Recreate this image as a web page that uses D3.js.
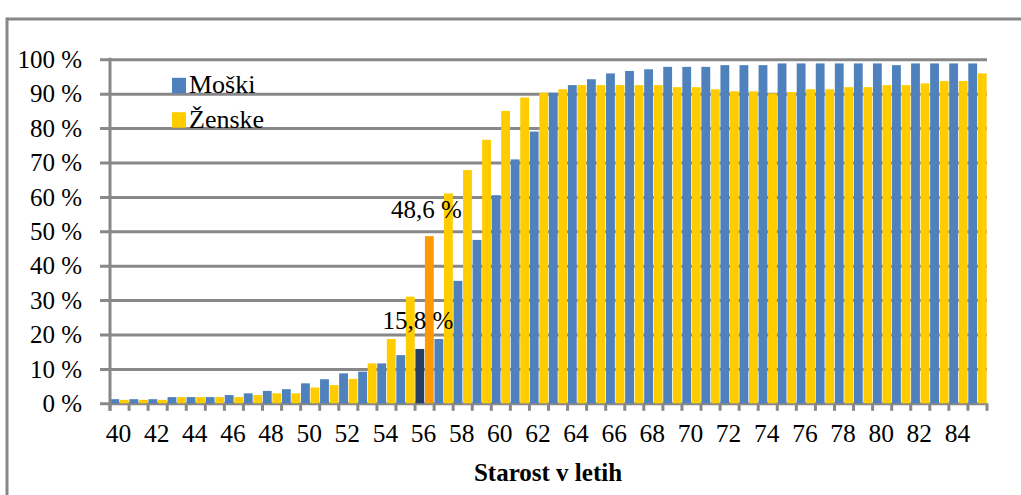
<!DOCTYPE html>
<html>
<head>
<meta charset="utf-8">
<script src="https://cdn.jsdelivr.net/npm/d3@7"></script>
<style>
  html, body { margin: 0; padding: 0; background: #fff; }
  svg { display: block; font-family: "Liberation Serif", "Times New Roman", serif; }
  svg text { font-family: "Liberation Serif", "Times New Roman", serif; fill: #000; }
</style>
</head>
<body>
<svg id="chart" width="1021" height="495"></svg>
<script>
// Ages (categories on the x axis)
const ages = [40, 41, 42, 43, 44, 45, 46, 47, 48, 49,
              50, 51, 52, 53, 54, 55, 56, 57, 58, 59,
              60, 61, 62, 63, 64, 65, 66, 67, 68, 69,
              70, 71, 72, 73, 74, 75, 76, 77, 78, 79,
              80, 81, 82, 83, 84, 85];

// Share of retired persons by age, in percent
const men = [1.2, 1.2, 1.2, 1.8, 1.8, 1.8, 2.4, 2.9, 3.6, 4.1,
             5.8, 7.0, 8.7, 9.2, 11.6, 14.0, 15.8, 18.7, 35.6, 47.5,
             60.5, 70.9, 79.0, 90.3, 92.5, 94.2, 95.9, 96.6, 97.1, 97.8,
             97.8, 97.8, 98.3, 98.3, 98.3, 98.8, 98.8, 98.8, 98.8, 98.8,
             98.8, 98.3, 98.8, 98.8, 98.8, 98.8];
const women = [1.0, 1.0, 1.0, 1.8, 1.8, 1.8, 1.8, 2.4, 2.9, 2.9,
               4.6, 5.3, 7.1, 11.6, 18.7, 31.0, 48.6, 61.0, 67.8, 76.6,
               85.0, 88.9, 90.3, 91.3, 92.5, 92.5, 92.5, 92.5, 92.5, 91.9,
               91.9, 91.3, 90.7, 90.7, 90.1, 90.5, 91.3, 91.3, 91.9, 91.9,
               92.5, 92.5, 93.0, 93.7, 93.7, 95.9];

const seriesNames = ["Moški", "Ženske"];
const yTicks = [0, 10, 20, 30, 40, 50, 60, 70, 80, 90, 100];
const xTickLabels = [40, 42, 44, 46, 48, 50, 52, 54, 56, 58, 60, 62,
                     64, 66, 68, 70, 72, 74, 76, 78, 80, 82, 84];
const highlightAge = 56;
const axisTitle = "Starost v letih";

const colors = { men: "#4F81BD", women: "#FFCC00", menHi: "#243F60", womenHi: "#FF9900" };
const gridColor = "#888888";

const svg = d3.select("#chart");
const plotLeft = 110, plotRight = 987, plotTop = 59.3, plotBottom = 403.3;

const x = d3.scaleBand().domain(ages).range([plotLeft, plotRight]).paddingInner(0).paddingOuter(0);
const y = d3.scaleLinear().domain([0, 100]).range([plotBottom, plotTop]);
const bw = x.bandwidth();

// outer frame (top and left edges)
svg.append("line").attr("x1", 7).attr("x2", 1021).attr("y1", 19).attr("y2", 19)
  .attr("stroke", gridColor).attr("stroke-width", 3);
svg.append("line").attr("x1", 7).attr("x2", 7).attr("y1", 17.5).attr("y2", 495)
  .attr("stroke", gridColor).attr("stroke-width", 3);

// horizontal grid + y axis labels
const yAxis = d3.axisLeft(y).tickValues(yTicks)
  .tickSize(0).tickPadding(0)
  .tickFormat(d => d + " %");
const gy = svg.append("g").attr("transform", "translate(100,0)").call(yAxis)
  .attr("font-family", null).attr("font-size", null);
gy.select(".domain").remove();
gy.selectAll(".tick line")
  .attr("x1", 0).attr("x2", plotRight - 100)
  .attr("stroke", gridColor).attr("stroke-width", 3);
gy.selectAll(".tick text")
  .attr("x", -18).attr("dy", "0.33em")
  .attr("font-size", 25).attr("fill", "#000");

// x axis ticks at category boundaries
const bounds = ages.map(a => x(a)).concat([plotRight]);
svg.append("g").selectAll("line").data(bounds).join("line")
  .attr("x1", d => d).attr("x2", d => d)
  .attr("y1", plotBottom).attr("y2", plotBottom + 7.5)
  .attr("stroke", gridColor).attr("stroke-width", 3);

// bars
const rows = ages.map((a, i) => ({ age: a, m: men[i], f: women[i] }));
const barW = bw / 2 - 0.7;
const bars = svg.append("g");
bars.selectAll("rect.m").data(rows).join("rect").attr("class", "m")
  .attr("x", d => x(d.age) + 0.35)
  .attr("width", barW)
  .attr("y", d => y(d.m))
  .attr("height", d => y(0) - y(d.m))
  .attr("fill", d => d.age === highlightAge ? colors.menHi : colors.men);
bars.selectAll("rect.f").data(rows).join("rect").attr("class", "f")
  .attr("x", d => x(d.age) + bw / 2 + 0.35)
  .attr("width", barW)
  .attr("y", d => y(d.f))
  .attr("height", d => y(0) - y(d.f))
  .attr("fill", d => d.age === highlightAge ? colors.womenHi : colors.women);

// y axis line on top of the bars
svg.append("line").attr("x1", plotLeft).attr("x2", plotLeft)
  .attr("y1", plotTop - 1.5).attr("y2", plotBottom + 7.5)
  .attr("stroke", gridColor).attr("stroke-width", 3);

// x tick labels
svg.append("g").selectAll("text").data(xTickLabels).join("text")
  .attr("x", d => x(d) + bw / 2 - 1)
  .attr("y", 442)
  .attr("text-anchor", "middle")
  .attr("font-size", 25.5)
  .text(d => d);

// axis title
svg.append("text")
  .attr("x", 548).attr("y", 481)
  .attr("text-anchor", "middle")
  .attr("font-size", 25).attr("font-weight", "bold")
  .text(axisTitle);

// value labels on the highlighted bars
const fmt = v => d3.format(".1f")(v).replace(".", ",") + " %";
const hi = rows.find(d => d.age === highlightAge);
svg.append("text")
  .attr("x", x(hi.age) + bw / 4 - 2).attr("y", y(hi.m) - 20)
  .attr("text-anchor", "middle").attr("font-size", 25)
  .text(fmt(hi.m));
svg.append("text")
  .attr("x", x(hi.age) + bw * 0.75 - 3).attr("y", y(hi.f) - 18)
  .attr("text-anchor", "middle").attr("font-size", 25)
  .text(fmt(hi.f));

// legend
const legendItems = [
  { name: seriesNames[0], color: colors.men, y: 93.3 },
  { name: seriesNames[1], color: colors.women, y: 127.7 }
];
const legend = svg.append("g");
legend.selectAll("rect").data(legendItems).join("rect")
  .attr("x", 172).attr("y", d => d.y - 15.5)
  .attr("width", 14).attr("height", 15.5)
  .attr("fill", d => d.color);
legend.selectAll("text").data(legendItems).join("text")
  .attr("x", 189).attr("y", d => d.y)
  .attr("font-size", 26)
  .text(d => d.name);
</script>
</body>
</html>
